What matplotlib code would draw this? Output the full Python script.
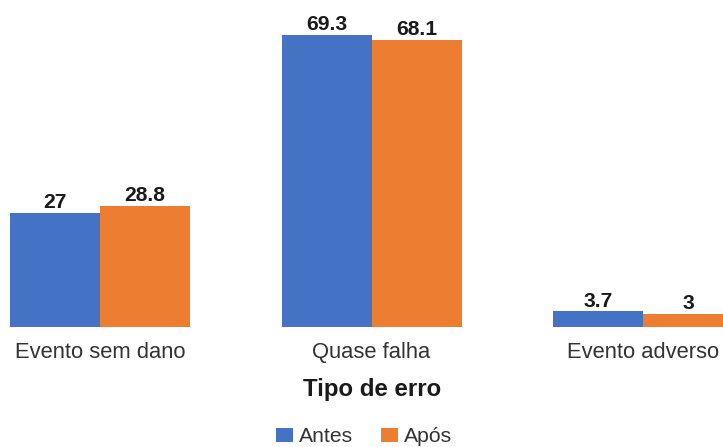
import matplotlib
matplotlib.use("Agg")
import matplotlib.pyplot as plt
from matplotlib.patches import Patch
import numpy as np

plt.rcParams['font.family'] = ['Liberation Sans', 'DejaVu Sans']

categories = ["Evento sem dano", "Quase falha", "Evento adverso"]
series_names = ["Antes", "Após"]
antes = [27, 69.3, 3.7]
apos = [28.8, 68.1, 3]
value_labels_antes = ["27", "69.3", "3.7"]
value_labels_apos = ["28.8", "68.1", "3"]
colors = ["#4472C4", "#ED7D31"]
axis_title = "Tipo de erro"

W, H = 723, 447
fig = plt.figure(figsize=(W / 100, H / 100), dpi=100)

# axes spanning full width, baseline at pixel 327
base_px = 327
ax = fig.add_axes([0, (H - base_px) / H, 1, base_px / H])
px_per_unit_x = 271.5
x0 = -100 / px_per_unit_x
ax.set_xlim(x0, x0 + W / px_per_unit_x)
px_per_unit_y = 292 / 69.3
ax.set_ylim(0, base_px / px_per_unit_y)

x = np.arange(len(categories))
bw = 90 / px_per_unit_x
b1 = ax.bar(x - bw / 2, antes, width=bw, color=colors[0], linewidth=0)
b2 = ax.bar(x + bw / 2, apos, width=bw, color=colors[1], linewidth=0)

for rects, labs in ((b1, value_labels_antes), (b2, value_labels_apos)):
    for r, lab in zip(rects, labs):
        ax.annotate(lab, (r.get_x() + r.get_width() / 2, r.get_height()),
                    xytext=(0, 3.5), textcoords="offset points",
                    ha="center", va="baseline", fontsize=15.2,
                    fontweight="bold", color="#1a1a1a", annotation_clip=False)

for s in ax.spines.values():
    s.set_visible(False)
ax.set_yticks([])
ax.set_xticks(x)
ax.set_xticklabels(categories, fontsize=15.8, color="#333333")
ax.tick_params(axis="x", length=0, pad=10.5)

fig.text(372 / W, 1 - 396 / H, axis_title, ha="center", va="baseline",
         fontsize=17.3, fontweight="bold", color="#1a1a1a")

handles = [Patch(facecolor=c, edgecolor="none") for c in colors]
fig.legend(handles, series_names, loc="center", ncol=2,
           bbox_to_anchor=(364 / W, 1 - 437 / H), frameon=False,
           fontsize=15.2, handlelength=0.8, handleheight=0.65,
           handletextpad=0.3, columnspacing=1.3, borderpad=0,
           labelcolor="#333333")

fig.savefig("out.png", dpi=100)
